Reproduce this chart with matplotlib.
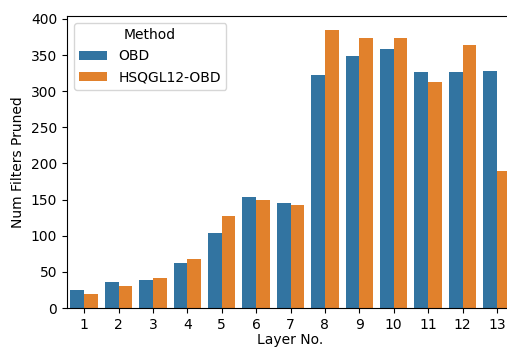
# number of filters pruned per layer, OBD vs HSQGL12-OBD
import pandas as pd
import seaborn as sns
from matplotlib import pyplot as plt

layers = [str(i) for i in range(1, 14)]
obd = [25, 36, 39, 63, 104, 153, 146, 323, 348, 359, 326, 326, 328]
hsq = [20, 31, 42, 68, 128, 150, 143, 384, 373, 373, 313, 364, 189]
methods = ['OBD', 'HSQGL12-OBD']

df = pd.DataFrame({
    'Layer No.': layers * 2,
    'Num Filters Pruned': obd + hsq,
    'Method': [methods[0]] * len(layers) + [methods[1]] * len(layers),
})

fig = plt.figure(figsize=(5.07, 3.47), dpi=100)
ax = fig.add_axes([0.132, 0.112, 0.882, 0.842])
sns.barplot(data=df, x='Layer No.', y='Num Filters Pruned', hue='Method',
            order=layers, hue_order=methods, saturation=0.75, ax=ax)

ax.set_xlim(-0.5, 12.5)
ax.set_ylim(0, 404)
ax.set_yticks(range(0, 401, 50))
ax.spines['right'].set_visible(False)  # cropped off in the original
ax.tick_params(labelsize=10)
ax.set_xlabel('Layer No.', fontsize=10, labelpad=1)
ax.set_ylabel('Num Filters Pruned', fontsize=10)
ax.legend(title='Method', loc='upper left', fontsize=10, title_fontsize=10)

fig.savefig('out.png', dpi=100)
